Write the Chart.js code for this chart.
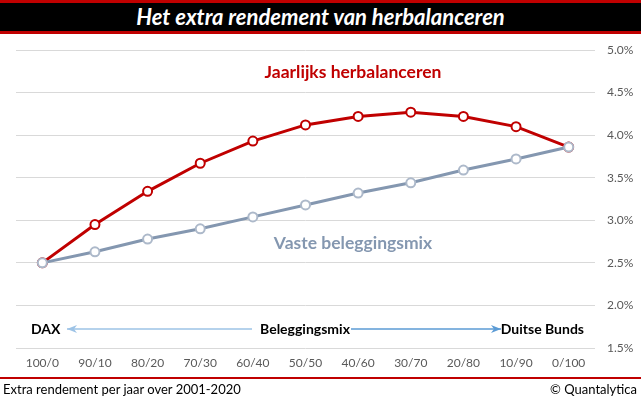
<!DOCTYPE html>
<html>
<head>
<meta charset="utf-8">
<script src="https://cdn.jsdelivr.net/npm/chart.js@4"></script>
<style>
  html, body { margin: 0; padding: 0; background: #fff; }
  #wrap { position: relative; width: 641px; height: 399px; overflow: hidden; background: #fff; }
  #title { position: absolute; left: 0; top: 0; width: 641px; height: 28px; background: #000;
    border-top: 3px solid #c00000; border-bottom: 3px solid #c00000;
    color: #fff; font: italic bold 22px Lato, sans-serif; text-align: center; line-height: 28px; }
  #footline { position: absolute; left: 0; top: 377px; width: 641px; height: 2px; background: #c00000; }
  #footL { position: absolute; left: 3px; top: 380px; font: 13px Lato, sans-serif; color: #000; line-height: 18px; }
  #footR { position: absolute; right: 4px; top: 380px; font: 13px Lato, sans-serif; color: #000; line-height: 18px; }
  canvas { position: absolute; left: 0; top: 0; }
</style>
</head>
<body>
<div id="wrap">
  <canvas id="c" width="641" height="399"></canvas>
  <div id="title">Het extra rendement van herbalanceren</div>
  <div id="footline"></div>
  <div id="footL">Extra rendement per jaar over 2001-2020</div>
  <div id="footR">© Quantalytica</div>
</div>
<script>
const categories = ['100/0','90/10','80/20','70/30','60/40','50/50','40/60','30/70','20/80','10/90','0/100'];
const rebalanceValues = [2.50, 2.95, 3.34, 3.67, 3.93, 4.12, 4.22, 4.27, 4.22, 4.10, 3.86];
const fixedMixValues  = [2.50, 2.63, 2.78, 2.90, 3.04, 3.18, 3.32, 3.44, 3.59, 3.72, 3.86];
const yTickMin = 1.5, yTickMax = 5.0, yTickStep = 0.5;
const rebalanceLabel = 'Jaarlijks herbalanceren';
const fixedLabel = 'Vaste beleggingsmix';
const axisLeftLabel = 'DAX', axisMidLabel = 'Beleggingsmix', axisRightLabel = 'Duitse Bunds';

function arrow(ctx, x1, x2, y, color, headLeft) {
  ctx.save();
  ctx.strokeStyle = color; ctx.fillStyle = color; ctx.lineWidth = 1.3;
  ctx.beginPath(); ctx.moveTo(x1, y); ctx.lineTo(x2, y); ctx.stroke();
  const tip = headLeft ? x1 : x2, d = headLeft ? 1 : -1;
  ctx.beginPath();
  ctx.moveTo(tip, y);
  ctx.lineTo(tip + d * 10, y - 4);
  ctx.lineTo(tip + d * 7, y);
  ctx.lineTo(tip + d * 10, y + 4);
  ctx.closePath(); ctx.fill();
  ctx.restore();
}

const annot = {
  id: 'annot',
  afterDatasetsDraw(chart) {
    const ctx = chart.ctx;
    ctx.save();
    ctx.textBaseline = 'middle';
    ctx.textAlign = 'center';
    ctx.font = 'bold 17.5px Lato, sans-serif';
    ctx.fillStyle = '#c00000';
    ctx.fillText(rebalanceLabel, 353, 72);
    ctx.fillStyle = '#8497b0';
    ctx.fillText(fixedLabel, 353, 243);
    ctx.font = 'bold 14px Lato, sans-serif';
    ctx.fillStyle = '#000';
    ctx.textAlign = 'left';
    ctx.fillText(axisLeftLabel, 31, 329);
    ctx.textAlign = 'center';
    ctx.fillText(axisMidLabel, 305, 329);
    ctx.textAlign = 'right';
    ctx.fillText(axisRightLabel, 584, 329);
    ctx.restore();
    arrow(ctx, 67, 252, 329, '#9dc3e6', true);
    arrow(ctx, 351, 501, 329, '#5b9bd5', false);
  }
};

new Chart(document.getElementById('c'), {
  type: 'line',
  data: {
    labels: categories,
    datasets: [
      { label: fixedLabel, data: fixedMixValues, order: 0,
        borderColor: '#8497b0', borderWidth: 3, tension: 0,
        pointRadius: 4.5, pointBorderWidth: 2, pointBorderColor: '#adb9ca', pointBackgroundColor: '#fff' },
      { label: rebalanceLabel, data: rebalanceValues, order: 1,
        borderColor: '#c00000', borderWidth: 3, tension: 0,
        pointRadius: 4.5, pointBorderWidth: 2, pointBorderColor: '#c00000', pointBackgroundColor: '#fff' }
    ]
  },
  options: {
    responsive: false,
    animation: false,
    devicePixelRatio: 1,
    layout: { padding: { left: 16, top: 50, right: 0, bottom: 22 } },
    plugins: { legend: { display: false }, tooltip: { enabled: false } },
    scales: {
      x: {
        offset: true,
        grid: { display: false, drawTicks: false },
        border: { display: false },
        ticks: { color: '#595959', font: { family: 'Lato', size: 12 }, padding: 8, maxRotation: 0, autoSkip: false },
        afterFit(s) { s.height = 29; }
      },
      y: {
        position: 'right',
        min: yTickMin, max: yTickMax,
        grid: { color: '#d9d9d9', lineWidth: 1, drawTicks: false },
        border: { display: false },
        ticks: { stepSize: yTickStep, color: '#595959', font: { family: 'Lato', size: 12 }, padding: 12,
          callback: v => v.toFixed(1) + '%' },
        afterFit(s) { s.width = 46; }
      }
    }
  },
  plugins: [annot]
});
</script>
</body>
</html>
